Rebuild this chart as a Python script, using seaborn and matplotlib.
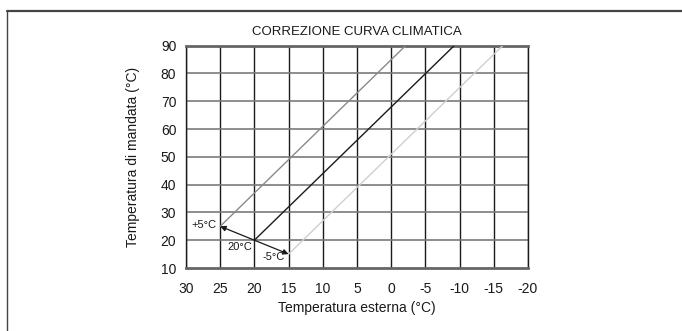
import matplotlib
matplotlib.use("Agg")
import matplotlib.pyplot as plt
from matplotlib import font_manager
import seaborn as sns
import pandas as pd

# Heating curve: outdoor temperature vs. flow temperature, with +5 / -5 °C shifts
curve_names = ["+5°C", "20°C", "-5°C"]
outdoor_start = [25, 20, 15]
outdoor_end = [-2.1, -9.2, -16.3]
flow_start = [25, 20, 15]
flow_end = [90, 90, 90]
curve_colors = ["#8a8a8a", "#1a1a1a", "#cfcfcf"]

x_ticks = [30, 25, 20, 15, 10, 5, 0, -5, -10, -15, -20]
y_ticks = [10, 20, 30, 40, 50, 60, 70, 80, 90]

title_text = "CORREZIONE CURVA CLIMATICA"
x_label = "Temperatura esterna (°C)"
y_label = "Temperatura di mandata (°C)"

sns.set_style("white")
names = {f.name for f in font_manager.fontManager.ttflist}
family = "Liberation Sans Narrow" if "Liberation Sans Narrow" in names else "Liberation Sans"
plt.rcParams["font.family"] = [family, "DejaVu Sans"]

rows = []
for n, xs, xe, ys, ye in zip(curve_names, outdoor_start, outdoor_end, flow_start, flow_end):
    rows.append({"curve": n, "outdoor": xs, "flow": ys})
    rows.append({"curve": n, "outdoor": xe, "flow": ye})
df = pd.DataFrame(rows)

fig = plt.figure(figsize=(6.82, 3.31), dpi=100)
ax = fig.add_axes([186 / 682, 1 - 268 / 331, (528 - 186) / 682, (268 - 45.7) / 331])

# vertical grid (black) and horizontal grid (grey)
for xv in x_ticks:
    ax.axvline(xv, color="#1a1a1a", lw=1.0, zorder=1)
for yv in y_ticks[1:-1]:
    ax.axhline(yv, color="#7a7a7a", lw=1.2, zorder=1)

sns.lineplot(data=df, x="outdoor", y="flow", hue="curve", palette=curve_colors,
             hue_order=curve_names, legend=False, lw=1.0, ax=ax, zorder=3)

# shift arrows from the nominal point
arrow_style = dict(arrowstyle="-|>", color="#1a1a1a", lw=0.9,
                   mutation_scale=8, shrinkA=0, shrinkB=0)
ax.annotate("", xy=(outdoor_start[0], flow_start[0]), xytext=(outdoor_start[1], flow_start[1]),
            arrowprops=arrow_style, zorder=4)
ax.annotate("", xy=(outdoor_start[2], flow_start[2]), xytext=(outdoor_start[1], flow_start[1]),
            arrowprops=arrow_style, zorder=4)

ax.text(outdoor_start[0] + 0.6, flow_start[0] + 0.3, curve_names[0], ha="right", va="center",
        fontsize=8, color="#1a1a1a")
ax.text(outdoor_start[1] + 0.3, flow_start[1] - 2.6, curve_names[1], ha="right", va="center",
        fontsize=8, color="#1a1a1a")
ax.text(outdoor_start[2] + 0.6, flow_start[2] - 1.2, curve_names[2], ha="right", va="center",
        fontsize=8, color="#1a1a1a")

ax.set_xlim(30, -20)
ax.set_ylim(10, 90)
ax.set_xticks(x_ticks)
ax.set_yticks(y_ticks)
ax.set_xticklabels([str(v) for v in x_ticks])
ax.set_yticklabels([str(v) for v in y_ticks])
ax.tick_params(axis="both", direction="out", length=5, width=1.0, color="#1a1a1a",
               labelsize=10, labelcolor="#1a1a1a")
ax.tick_params(axis="x", pad=5)
ax.tick_params(axis="y", pad=2)

for side in ["top", "bottom"]:
    ax.spines[side].set_color("#666666")
    ax.spines[side].set_linewidth(2.0)
for side in ["left", "right"]:
    ax.spines[side].set_color("#1a1a1a")
    ax.spines[side].set_linewidth(1.0)

ax.set_xlabel(x_label, fontsize=10, color="#1a1a1a", labelpad=4)
ax.set_ylabel(y_label, fontsize=10, color="#1a1a1a", labelpad=15)
ax.set_title(title_text, fontsize=9.5, color="#1a1a1a", pad=8)

# outer frame of the panel
fig.add_artist(plt.Line2D([7 / 682, 1.0], [1 - 11 / 331, 1 - 11 / 331],
                          transform=fig.transFigure, color="#444444", lw=1.6))
fig.add_artist(plt.Line2D([7 / 682, 7 / 682], [0, 1 - 11 / 331],
                          transform=fig.transFigure, color="#444444", lw=1.0))

fig.savefig("out.png", dpi=100)
